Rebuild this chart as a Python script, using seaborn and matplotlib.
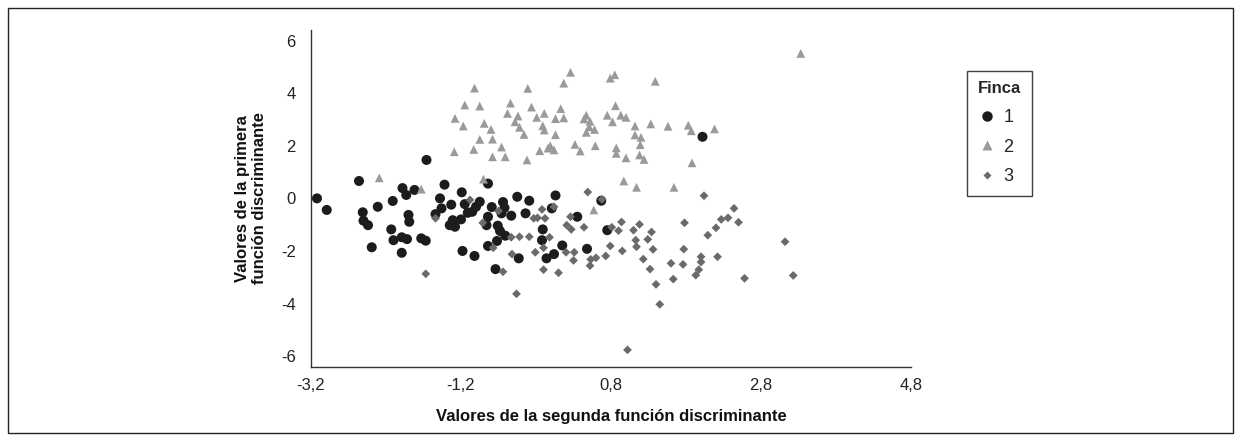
import pandas as pd
import matplotlib
matplotlib.use("Agg")
import matplotlib.pyplot as plt
import seaborn as sns
from matplotlib.lines import Line2D
from matplotlib.patches import Rectangle

# Finca 1 (circulos)
finca1_x = [2.02, -1.66, -2.56, -3.12, -2.99, -2.51, -2.50, -2.44, -2.31, -2.11,
            -1.98, -1.93, -1.82, -1.90, -1.89, -2.13, -2.10, -1.99, -1.92, -1.73,
            -1.67, -2.39, -1.99, -1.42, -1.48, -1.46, -1.54, -1.33, -1.19, -1.15,
            -1.11, -1.05, -1.20, -1.31, -1.35, -1.28, -1.18, -1.02, -0.84, -0.45,
            -0.29, 0.06, -0.64, -0.62, -0.79, -0.95, -1.00, -0.84, -0.66, -0.53,
            -0.34, 0.01, -0.86, -0.71, -0.68, -0.61, -0.72, -0.84, -0.43, -0.11,
            -0.12, 0.15, 0.04, -0.06, 0.48, 0.35, 0.67, 0.75, -0.74]
finca1_y = [2.34, 1.46, 0.66, 0.00, -0.44, -0.53, -0.85, -1.02, -0.32, -0.10,
            0.39, 0.13, 0.32, -0.63, -0.89, -1.18, -1.59, -1.48, -1.55, -1.52,
            -1.61, -1.86, -2.07, 0.52, 0.00, -0.38, -0.60, -0.24, 0.23, -0.22,
            -0.55, -0.51, -0.80, -0.83, -1.02, -1.08, -2.00, -2.19, 0.56, 0.06,
            -0.09, 0.11, -0.14, -0.36, -0.33, -0.13, -0.32, -0.70, -0.57, -0.66,
            -0.57, -0.38, -1.02, -1.04, -1.24, -1.42, -1.62, -1.81, -2.28, -1.18,
            -1.59, -1.79, -2.12, -2.28, -1.92, -0.70, -0.09, -1.21, -2.69]

# Finca 2 (triangulos)
finca2_x = [-1.15, -1.28, -1.17, -1.29, -1.03, -1.02, 0.26, 0.17, 0.79, 0.85,
            -0.31, -0.95, -0.54, -0.58, -0.26, -0.44, -0.48, -0.42, -0.36, -0.89,
            -0.80, -0.95, -0.78, -0.66, -0.19, -0.09, -0.11, -0.09, 0.06, 0.13,
            0.17, 0.06, 0.44, 0.47, 0.52, 0.51, 0.58, 0.47, 0.75, 0.82,
            0.86, 0.93, 1.00, 1.12, 1.12, 0.32, 0.39, 0.59, 0.87, 0.87,
            -0.15, -0.04, -0.01, 0.04, 3.33, 1.39, 1.33, 1.56, 1.83, 1.87,
            2.18, 1.20, 1.19, 1.18, 1.24, 1.88, 1.64, 1.14, -2.29, -1.73,
            -0.78, -0.61, -0.32, 1.00, 0.97, -0.90, 0.57]
finca2_y = [3.55, 3.04, 2.75, 1.77, 1.86, 4.19, 4.79, 4.38, 4.57, 4.70,
            4.18, 3.51, 3.62, 3.23, 3.47, 3.13, 2.91, 2.70, 2.43, 2.85,
            2.62, 2.24, 2.25, 1.95, 3.08, 3.23, 2.76, 2.60, 3.03, 3.41,
            3.06, 2.42, 3.02, 3.16, 2.93, 2.72, 2.62, 2.51, 3.16, 2.91,
            3.52, 3.16, 3.08, 2.75, 2.41, 2.05, 1.80, 2.00, 1.92, 1.71,
            1.81, 1.91, 2.00, 1.84, 5.51, 4.45, 2.83, 2.74, 2.78, 2.57,
            2.64, 2.32, 2.04, 1.65, 1.48, 1.35, 0.42, 0.42, 0.78, 0.35,
            1.58, 1.58, 1.46, 1.54, 0.66, 0.73, -0.44]

# Finca 3 (rombos)
finca3_x = [-1.08, -1.54, -0.70, -0.91, -0.77, -0.53, -0.42, -0.29, -0.12, -0.23,
            -0.18, -0.08, 0.04, -0.02, -0.10, -0.21, -0.52, 0.21, 0.27, 0.26,
            0.44, 0.49, 0.68, 0.20, 0.31, 0.60, 0.73, 0.79, 0.81, 0.90,
            0.94, 1.10, 0.95, 1.13, 1.14, 0.53, 2.04, 2.44, 2.36, 2.27,
            2.50, 2.20, 1.78, 2.09, 3.12, 1.18, 1.34, 1.29, 1.36, 1.77,
            2.00, 2.22, 1.23, -1.67, -0.64, -0.46, -0.10, 0.10, 0.30, 0.52,
            1.02, 1.32, 1.40, 1.45, 1.60, 1.76, 1.63, 2.00, 1.97, 1.93,
            2.58, 3.23]
finca3_y = [-0.06, -0.76, -0.48, -0.93, -1.88, -1.48, -1.46, -1.46, -0.42, -0.76,
            -0.74, -0.76, -0.32, -1.48, -1.88, -2.05, -2.12, -1.02, -1.18, -0.70,
            -1.10, 0.24, -0.04, -2.05, -2.05, -2.26, -2.19, -1.81, -1.10, -1.23,
            -0.90, -1.21, -2.00, -1.59, -1.84, -2.32, 0.10, -0.38, -0.74, -0.80,
            -0.91, -1.12, -0.93, -1.40, -1.65, -0.99, -1.28, -1.56, -1.94, -1.93,
            -2.22, -2.22, -2.31, -2.87, -2.79, -3.63, -2.71, -2.83, -2.36, -2.56,
            -5.76, -2.69, -3.27, -4.03, -2.47, -2.51, -3.07, -2.42, -2.71, -2.92,
            -3.04, -2.93]

x_ticks = [-3.2, -1.2, 0.8, 2.8, 4.8]
x_tick_labels = ['-3,2', '-1,2', '0,8', '2,8', '4,8']
y_ticks = [-6, -4, -2, 0, 2, 4, 6]
y_tick_labels = ['-6', '-4', '-2', '0', '2', '4', '6']

finca_names = ['1', '2', '3']
finca_colors = ['#1c1c1c', '#9a9a9a', '#6a6a6a']
finca_markers = ['o', '^', 'D']
finca_sizes = [52, 40, 20]

sns.set_style('white')
plt.rcParams['font.family'] = ['Liberation Sans Narrow', 'Liberation Sans', 'DejaVu Sans']

fig = plt.figure(figsize=(12.41, 4.40), dpi=100)
ax = fig.add_axes([0.2506, 0.1666, 0.4835, 0.7652])

groups = [(finca1_x, finca1_y), (finca2_x, finca2_y), (finca3_x, finca3_y)]
for (gx, gy), name, col, mk, sz in zip(groups, finca_names, finca_colors, finca_markers, finca_sizes):
    d = pd.DataFrame({'x': gx, 'y': gy})
    sns.scatterplot(data=d, x='x', y='y', ax=ax, color=col, marker=mk, s=sz,
                    edgecolor='none', linewidth=0, legend=False, zorder=3)

ax.set_xlim(-3.2, 4.8)
ax.set_ylim(-6.4, 6.4)
ax.set_xticks(x_ticks)
ax.set_xticklabels(x_tick_labels)
ax.set_yticks(y_ticks)
ax.set_yticklabels(y_tick_labels)
ax.tick_params(axis='both', direction='out', length=4, width=1, color='#333333',
               labelsize=12, labelcolor='#222222')
ax.tick_params(axis='x', pad=4)
ax.tick_params(axis='y', pad=7)

for side in ['top', 'right']:
    ax.spines[side].set_visible(False)
for side in ['left', 'bottom']:
    ax.spines[side].set_color('#333333')
    ax.spines[side].set_linewidth(1)

ax.set_xlabel('Valores de la segunda función discriminante', fontsize=12,
              fontweight='bold', labelpad=12, color='#111111')
ax.set_ylabel('Valores de la primera\nfunción discriminante', fontsize=12,
              fontweight='bold', labelpad=10, color='#111111')

handles = [Line2D([0], [0], marker=mk, color='none', markerfacecolor=col,
                  markeredgecolor='none', markersize=ms)
           for mk, col, ms in zip(finca_markers, finca_colors, [7.5, 6.5, 4.5])]
leg = fig.legend(handles, finca_names, title='Finca', loc='upper left',
                 bbox_to_anchor=(0.772, 0.86), frameon=True, fancybox=False,
                 edgecolor='#111111', fontsize=13, title_fontsize=12,
                 handlelength=1.0, handletextpad=0.4, labelspacing=0.7,
                 borderpad=0.6, alignment='left')
leg.get_title().set_fontweight('bold')
leg.get_frame().set_linewidth(1)

fig.patches.append(Rectangle((0.0065, 0.016), 0.987, 0.966, transform=fig.transFigure,
                             fill=False, edgecolor='#222222', linewidth=1))

fig.savefig('out.png', dpi=100, facecolor='white')
